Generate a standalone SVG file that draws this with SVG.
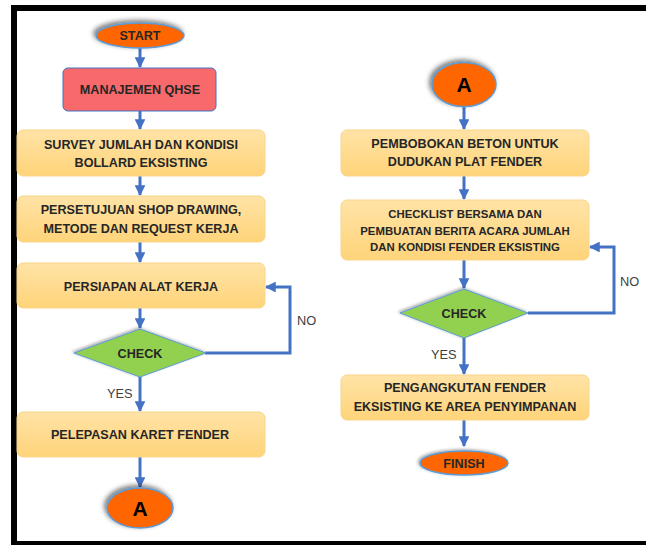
<svg xmlns="http://www.w3.org/2000/svg" width="646" height="545" viewBox="0 0 646 545">
<defs>
<linearGradient id="boxg" x1="0" y1="0" x2="0" y2="1">
<stop offset="0" stop-color="#FFE3A6"/>
<stop offset="1" stop-color="#FFD47A"/>
</linearGradient>
<filter id="sh" x="-30%" y="-40%" width="160%" height="180%">
<feDropShadow dx="-2" dy="-2" stdDeviation="2.5" flood-color="#000" flood-opacity="0.55"/>
</filter>
<filter id="sh2" x="-20%" y="-30%" width="140%" height="160%">
<feDropShadow dx="-1.5" dy="-1" stdDeviation="1.5" flood-color="#000" flood-opacity="0.35"/>
</filter>
<marker id="ah" viewBox="0 0 10 10" refX="9" refY="5" markerWidth="3.6" markerHeight="3.6" orient="auto" markerUnits="strokeWidth">
<path d="M0,0 L10,5 L0,10 z" fill="#4472C4"/>
</marker>
<style>
.box{fill:url(#boxg);stroke:#F7D68A;stroke-width:1}
.ov{fill:#FF6600;stroke:#5B9BD5;stroke-width:1.5}
.dm{fill:#92D050;stroke:#5B9BD5;stroke-width:1}
.t{font-family:"Liberation Sans",Arial,sans-serif;font-weight:bold;font-size:12.6px;fill:#262626;text-anchor:middle}
.s{font-size:11.4px}
.big{font-size:21px;fill:#000}
.lb{font-family:"Liberation Sans",Arial,sans-serif;font-size:12.8px;fill:#404040}
.c{fill:none;stroke:#4472C4;stroke-width:3;marker-end:url(#ah)}
</style>
</defs>
<rect width="646" height="545" fill="#fff"/>
<g id="frame" fill="#000">
<rect x="11" y="5" width="635" height="6"/>
<rect x="11" y="5" width="6" height="540"/>
<rect x="11" y="541" width="635" height="4"/>
</g>
<g id="connectors">
<path class="c" d="M140,48 V67"/>
<path class="c" d="M140,111 V129"/>
<path class="c" d="M140,176 V195"/>
<path class="c" d="M140,242 V262"/>
<path class="c" d="M140,308 V328"/>
<path class="c" d="M205,353 H290 V287 H266"/>
<path class="c" d="M140,377 V411"/>
<path class="c" d="M140,457 V487"/>
<path class="c" d="M464,107 V129"/>
<path class="c" d="M464,176 V199"/>
<path class="c" d="M464,260 V288"/>
<path class="c" d="M528,313 H614 V247 H590"/>
<path class="c" d="M464,338 V374"/>
<path class="c" d="M464,420 V446"/>
</g>
<g id="labels">
<text class="lb" x="297" y="325">NO</text>
<text class="lb" x="107" y="398">YES</text>
<text class="lb" x="620" y="286">NO</text>
<text class="lb" x="431" y="359">YES</text>
</g>
<g id="start">
<ellipse class="ov" cx="140" cy="35.5" rx="44" ry="12.5" filter="url(#sh)"/>
<text class="t" x="140" y="40">START</text>
</g>
<g id="qhse">
<rect x="63" y="68" width="153" height="43" rx="5" fill="#F8696B" stroke="#4472C4" stroke-width="1"/>
<text class="t" x="140" y="94">MANAJEMEN QHSE</text>
</g>
<g id="survey">
<rect class="box" x="17" y="130" width="248" height="46" rx="6"/>
<text class="t" x="141" y="149">SURVEY JUMLAH DAN KONDISI</text>
<text class="t" x="141" y="167">BOLLARD EKSISTING</text>
</g>
<g id="persetujuan">
<rect class="box" x="17" y="196" width="248" height="46" rx="6"/>
<text class="t" x="141" y="214">PERSETUJUAN SHOP DRAWING,</text>
<text class="t" x="141" y="233">METODE DAN REQUEST KERJA</text>
</g>
<g id="persiapan">
<rect class="box" x="17" y="263" width="248" height="45" rx="6"/>
<text class="t" x="141" y="291">PERSIAPAN ALAT KERJA</text>
</g>
<g id="check1">
<polygon class="dm" points="140,329 206,353 140,377 74,353" filter="url(#sh2)"/>
<text class="t" x="140" y="358">CHECK</text>
</g>
<g id="pelepasan">
<rect class="box" x="17" y="412" width="248" height="45" rx="6"/>
<text class="t" x="140" y="439">PELEPASAN KARET FENDER</text>
</g>
<g id="a1">
<ellipse class="ov" cx="140" cy="508" rx="33" ry="20" filter="url(#sh)"/>
<text class="t big" x="140" y="516">A</text>
</g>
<g id="a2">
<ellipse class="ov" cx="464" cy="84.5" rx="32" ry="22" filter="url(#sh)"/>
<text class="t big" x="464" y="92">A</text>
</g>
<g id="pembobokan">
<rect class="box" x="341" y="130" width="248" height="46" rx="6"/>
<text class="t" x="465" y="148">PEMBOBOKAN BETON UNTUK</text>
<text class="t" x="465" y="166">DUDUKAN PLAT FENDER</text>
</g>
<g id="checklist">
<rect class="box" x="341" y="200" width="248" height="60" rx="6"/>
<text class="t s" x="465" y="218">CHECKLIST BERSAMA DAN</text>
<text class="t s" x="465" y="235">PEMBUATAN BERITA ACARA JUMLAH</text>
<text class="t s" x="465" y="251">DAN KONDISI FENDER EKSISTING</text>
</g>
<g id="check2">
<polygon class="dm" points="464,289 528,313 464,338 400,313" filter="url(#sh2)"/>
<text class="t" x="464" y="318">CHECK</text>
</g>
<g id="pengangkutan">
<rect class="box" x="341" y="375" width="248" height="45" rx="6"/>
<text class="t" x="465" y="392">PENGANGKUTAN FENDER</text>
<text class="t" x="465" y="411">EKSISTING KE AREA PENYIMPANAN</text>
</g>
<g id="finish">
<ellipse class="ov" cx="464" cy="463" rx="44" ry="12" filter="url(#sh2)"/>
<text class="t" x="464" y="467.5">FINISH</text>
</g>
</svg>
